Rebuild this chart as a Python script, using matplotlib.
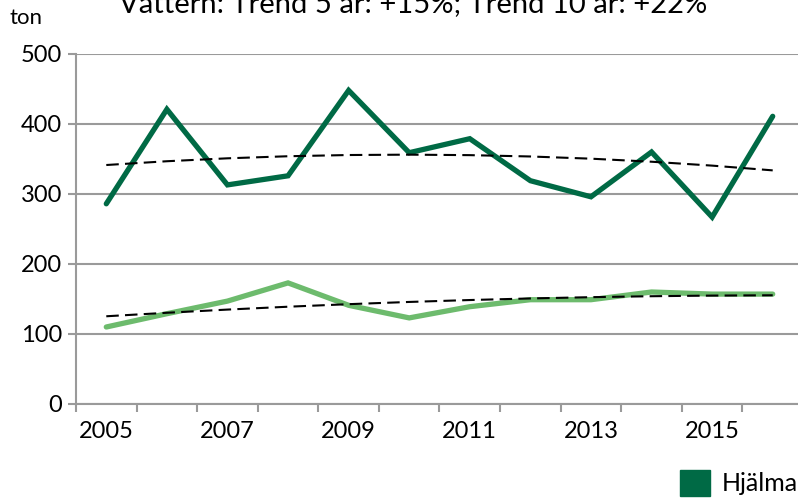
import numpy as np
import matplotlib.pyplot as plt
from matplotlib.patches import Patch

plt.rcParams['font.family'] = ['Lato', 'DejaVu Sans']

years = [2005, 2006, 2007, 2008, 2009, 2010, 2011, 2012, 2013, 2014, 2015, 2016]
hjalmaren = [286, 421, 313, 326, 448, 359, 379, 319, 296, 360, 267, 411]
vattern = [110, 129, 147, 173, 141, 123, 139, 149, 149, 160, 157, 157]
tick_years = [2005, 2007, 2009, 2011, 2013, 2015]

dark_green = "#006a45"
light_green = "#6dbb6d"
grid_grey = "#9a9a9a"

fig = plt.figure(figsize=(7.98, 4.99), dpi=100)
# plot area runs a little past the right edge of the canvas
ax = fig.add_axes([76 / 798, 1 - 404 / 499, 727 / 798, 350 / 499])

x = np.arange(len(years))
ax.plot(x, hjalmaren, color=dark_green, lw=3.8, solid_capstyle='round',
        solid_joinstyle='miter', zorder=3)
ax.plot(x, vattern, color=light_green, lw=3.8, solid_capstyle='round',
        solid_joinstyle='miter', zorder=3)

# second order polynomial trend lines
for series in (hjalmaren, vattern):
    coef = np.polyfit(x, series, 2)
    ax.plot(x, np.polyval(coef, x), color="black", lw=1.5, ls=(0, (6, 3)), zorder=4)

ax.set_xlim(-0.5, len(years) - 0.5)
ax.set_ylim(0, 500)
ax.set_yticks(range(0, 501, 100))
ax.set_xticks(np.arange(-0.5, len(years), 1), minor=False)
ax.set_xticklabels([])
ax.set_xticks([years.index(y) for y in tick_years], minor=True)
ax.set_xticklabels([str(y) for y in tick_years], minor=True)
ax.tick_params(axis='x', which='major', length=6, width=1.5, color=grid_grey, direction='out')
ax.tick_params(axis='x', which='minor', length=0, pad=12, labelsize=17)
ax.tick_params(axis='y', length=6, width=1.5, color=grid_grey, labelsize=17, pad=4)

ax.grid(axis='y', color=grid_grey, lw=1.5)
ax.set_axisbelow(True)
for side in ('top', 'right'):
    ax.spines[side].set_visible(False)
for side in ('left', 'bottom'):
    ax.spines[side].set_color(grid_grey)
    ax.spines[side].set_linewidth(1.5)

fig.text(10 / 798, 1 - 18 / 499, "ton", fontsize=16, va='center', ha='left')
fig.text(413 / 798, 1 - 13 / 499, "Vättern: Trend 5 år: +15%; Trend 10 år: +22%",
         fontsize=21, ha='center', va='baseline')

handles = [Patch(color=dark_green, label="Hjälmaren"),
           Patch(color=light_green, label="Vättern")]
fig.legend(handles=handles, loc='upper left', bbox_to_anchor=(670 / 798, 1 - 460 / 499),
           ncol=2, frameon=False, fontsize=18, handlelength=1.2, handleheight=1.2,
           handletextpad=0.45, borderaxespad=0)

fig.savefig("out.png", dpi=100)
